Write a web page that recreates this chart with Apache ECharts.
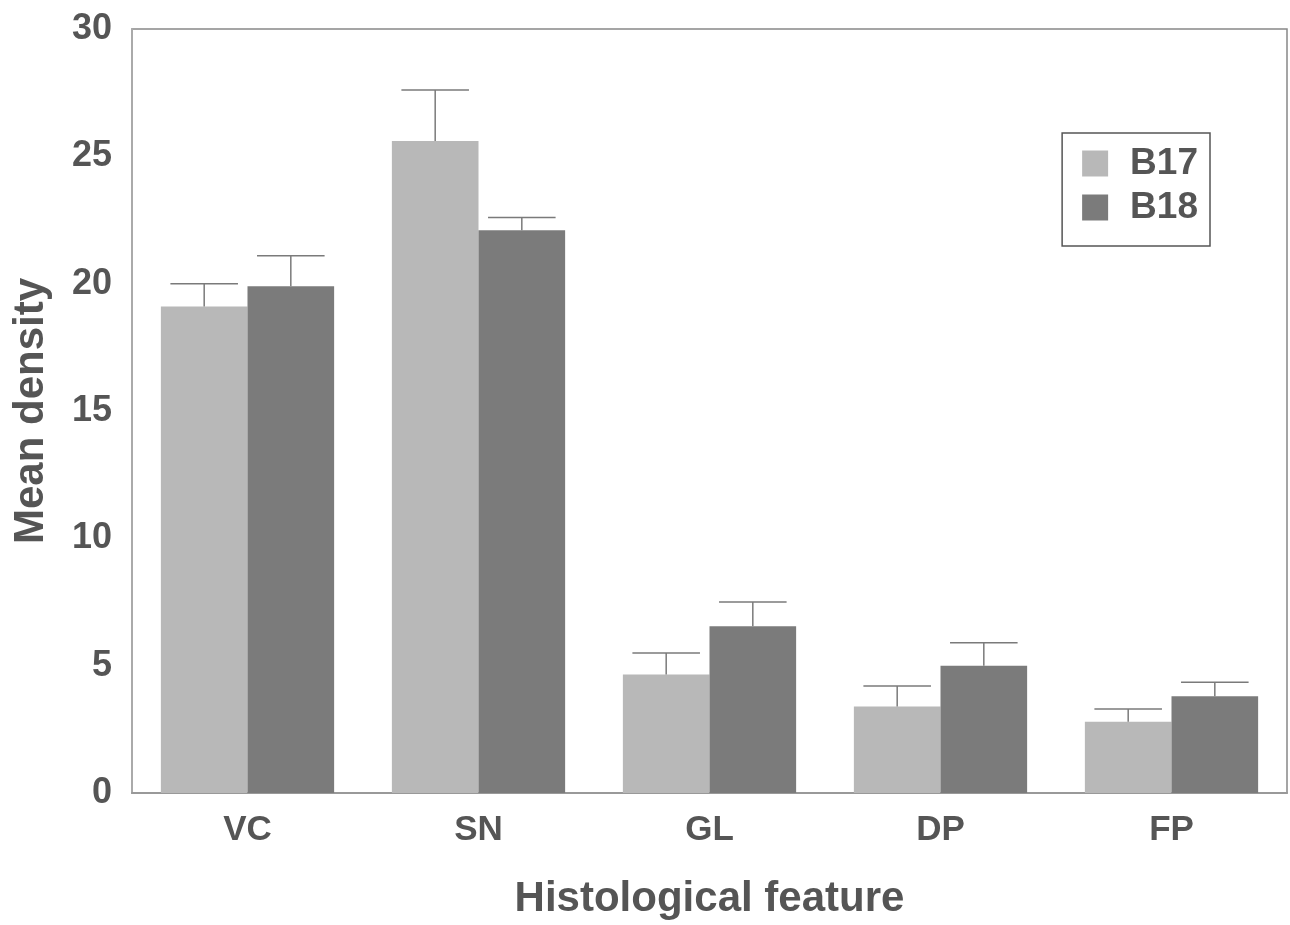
<!DOCTYPE html>
<html><head><meta charset="utf-8">
<script src="https://cdn.jsdelivr.net/npm/echarts@6/dist/echarts.min.js"></script>
<style>html,body{margin:0;padding:0;background:#fff;overflow:hidden}#c{width:1290px;height:925px}</style>
</head><body><div id="c"></div>
<script>
const categories = ['VC', 'SN', 'GL', 'DP', 'FP'];
const b17 = [19.1, 25.6, 4.65, 3.4, 2.8];
const b18 = [19.9, 22.1, 6.55, 5.0, 3.8];
const b17Upper = [20.0, 27.6, 5.5, 4.2, 3.3];
const b18Upper = [21.1, 22.6, 7.5, 5.9, 4.35];
const yTicks = [0, 5, 10, 15, 20, 25, 30];

const gapRatio = 0.25;
const font = 'Liberation Sans, Arial, sans-serif';
const textColor = '#555';

function errSeries(vals, uppers, side) {
  return {
    type: 'custom',
    silent: true,
    z: 5,
    data: vals.map((v, i) => [i, v, uppers[i]]),
    renderItem: function (params, api) {
      const catW = api.size([1, 0])[0];
      const barW = catW * (1 - gapRatio) / 2;
      const base = api.coord([api.value(0), api.value(1)]);
      const top = api.coord([api.value(0), api.value(2)]);
      const x = base[0] + side * barW / 2;
      const capHalf = barW * 0.39;
      const style = { stroke: '#7a7a7a', lineWidth: 1.5 };
      return {
        type: 'group',
        children: [
          { type: 'line', shape: { x1: x, y1: base[1], x2: x, y2: top[1] }, style: style },
          { type: 'line', shape: { x1: x - capHalf, y1: top[1], x2: x + capHalf, y2: top[1] }, style: style }
        ]
      };
    }
  };
}

const chart = echarts.init(document.getElementById('c'));
chart.setOption({
  animation: false,
  backgroundColor: '#fff',
  grid: { left: 132, right: 3, top: 29, bottom: 116, show: true, borderColor: '#888', borderWidth: 1.5 },
  legend: {
    data: ['B17', 'B18'],
    orient: 'vertical',
    right: 80, top: 133,
    padding: [12, 12, 20, 20],
    itemGap: 7,
    itemWidth: 26, itemHeight: 26,
    icon: 'rect',
    borderColor: '#555', borderWidth: 1.5,
    textStyle: { fontFamily: font, fontSize: 37, fontWeight: 'bold', color: textColor, padding: [0, 0, 0, 17] }
  },
  xAxis: {
    type: 'category',
    data: categories,
    name: 'Histological feature',
    nameLocation: 'middle',
    nameGap: 85,
    nameTextStyle: { fontFamily: font, fontSize: 42, fontWeight: 'bold', color: textColor },
    axisLine: { lineStyle: { color: '#999', width: 2 } },
    axisTick: { show: false },
    axisLabel: { fontFamily: font, fontSize: 35, fontWeight: 'bold', color: textColor, margin: 20 }
  },
  yAxis: {
    type: 'value',
    min: 0, max: 30, interval: 5,
    name: 'Mean density',
    nameLocation: 'middle',
    nameGap: 80,
    nameTextStyle: { fontFamily: font, fontSize: 42, fontWeight: 'bold', color: textColor },
    axisLine: { show: true, lineStyle: { color: '#aaa', width: 2 } },
    axisTick: { show: false },
    splitLine: { show: false },
    axisLabel: {
      fontFamily: font, fontSize: 36, fontWeight: 'bold', color: textColor, margin: 20,
      formatter: v => yTicks.includes(v) ? String(v) : ''
    }
  },
  series: [
    { name: 'B17', type: 'bar', data: b17, barGap: '0%', barCategoryGap: (gapRatio * 100) + '%',
      itemStyle: { color: '#b8b8b8' } },
    { name: 'B18', type: 'bar', data: b18, barGap: '0%', barCategoryGap: (gapRatio * 100) + '%',
      itemStyle: { color: '#7b7b7b' } },
    errSeries(b17, b17Upper, -1),
    errSeries(b18, b18Upper, 1)
  ]
});
</script>
</body></html>
